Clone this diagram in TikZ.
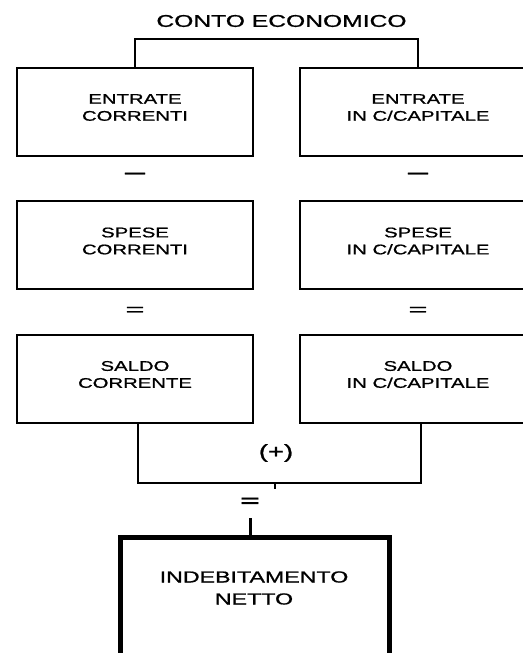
\documentclass[tikz,border=0pt]{standalone}
\usepackage{fontspec}
\setmainfont[FakeStretch=1.45,FakeBold=1]{Liberation Sans}
\begin{document}
\begin{tikzpicture}[x=1pt,y=-1pt,
  box/.style={draw, line width=2pt, minimum width=236pt, minimum height=88pt, inner sep=0pt},
  bigbox/.style={draw, line width=5pt, minimum width=269pt, minimum height=127.5pt, inner sep=0pt},
  lbl/.style={align=center, font=\fontsize{14}{17}\selectfont, inner sep=0pt},
  biglbl/.style={align=center, font=\fontsize{16}{22}\selectfont, inner sep=0pt},
  title/.style={font=\fontsize{17}{20}\selectfont, inner sep=0pt},
  sym/.style={font=\fontsize{14}{14}\selectfont, inner sep=0pt},
  conn/.style={line width=2pt}]
\useasboundingbox (0,0) rectangle (522,653);

\node[title] (t) at (281.5,21) {CONTO ECONOMICO};

\node[box] (ec) at (135,111.5) {};
\node[box] (ek) at (418,111.5) {};
\node[box] (sc) at (135,245) {};
\node[box] (sk) at (418,245) {};
\node[box] (dc) at (135,378.5) {};
\node[box] (dk) at (418,378.5) {};
\node[bigbox] (fin) at (255,601.25) {};

\node[lbl] (ecl) at ([yshift=4pt]ec.center) {ENTRATE\\CORRENTI};
\node[lbl] (ekl) at ([yshift=4pt]ek.center) {ENTRATE\\IN C/CAPITALE};
\node[lbl] (scl) at ([yshift=4pt]sc.center) {SPESE\\CORRENTI};
\node[lbl] (skl) at ([yshift=4pt]sk.center) {SPESE\\IN C/CAPITALE};
\node[lbl] (dcl) at ([yshift=4pt]dc.center) {SALDO\\CORRENTE};
\node[lbl] (dkl) at ([yshift=4pt]dk.center) {SALDO\\IN C/CAPITALE};
\node[biglbl] (finl) at (254,588) {INDEBITAMENTO\\NETTO};

\node[sym] (m1) at (135,176) {\scalebox{1}[1.6]{—}};
\node[sym] (m2) at (418,176) {\scalebox{1}[1.6]{—}};
\node[sym] (e1) at (135,311) {\scalebox{1.6}[1.2]{=}};
\node[sym] (e2) at (418,311) {\scalebox{1.6}[1.2]{=}};
\node[font=\fontsize{19}{19}\selectfont, inner sep=0pt] (plus) at (276,453) {(+)};
\node[sym] (e3) at (250,502) {\bfseries\scalebox{1.6}[1.2]{=}};

\draw[conn] (ec.north) -- ++(0,-28) -| (ek.north);
\draw[conn] ([xshift=3pt]dc.south) -- ++(0,59.5) coordinate (bl) -| ([xshift=3pt]dk.south);
\coordinate (j) at (275,482);
\draw[conn] (j) -- ++(0,6.5);
\draw[line width=3pt] ([xshift=-5pt]fin.north) -- ++(0,-17);
\end{tikzpicture}
\end{document}
